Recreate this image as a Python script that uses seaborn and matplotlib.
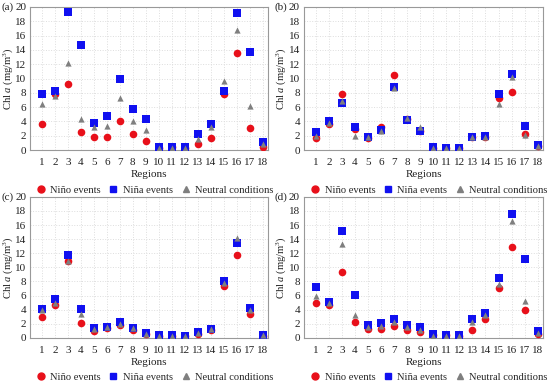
import numpy as np
import pandas as pd
import matplotlib
matplotlib.use("Agg")
import matplotlib.pyplot as plt
from matplotlib.lines import Line2D
import seaborn as sns

# regions 1..18
regions = list(range(1, 19))
conditions = ["Niño events", "Niña events", "Neutral conditions"]

# panel (a)
a_nino = [3.6, 7.9, 9.2, 2.5, 1.9, 1.9, 4.1, 2.3, 1.3, 0.3, 0.5, 0.3, 0.9, 1.7, 7.8, 13.5, 3.1, 0.5]
a_nina = [7.8, 8.2, 19.3, 14.7, 3.8, 4.7, 10.0, 5.7, 4.3, 0.4, 0.4, 0.4, 2.3, 3.7, 8.3, 19.2, 13.7, 1.1]
a_neut = [6.4, 7.6, 12.1, 4.4, 3.2, 3.4, 7.3, 4.0, 2.8, 0.3, 0.3, 0.3, 1.5, 3.3, 9.6, 16.8, 6.1, 0.8]

# panel (b)
b_nino = [1.7, 3.6, 7.9, 3.0, 1.7, 3.3, 10.5, 4.4, 2.7, 0.3, 0.3, 0.3, 1.8, 1.9, 7.3, 8.1, 2.3, 0.6]
b_nina = [2.5, 4.0, 6.6, 3.3, 1.9, 2.8, 8.8, 4.2, 2.7, 0.4, 0.3, 0.3, 1.9, 2.0, 7.8, 10.6, 3.4, 0.7]
b_neut = [2.0, 3.8, 6.9, 2.0, 1.9, 2.7, 8.7, 4.5, 3.2, 0.3, 0.3, 0.3, 1.8, 1.9, 6.5, 10.2, 2.1, 0.6]

# panel (c)
c_nino = [3.0, 4.7, 10.9, 2.1, 1.0, 1.4, 1.8, 1.1, 0.5, 0.3, 0.3, 0.3, 0.6, 1.1, 7.3, 11.7, 3.4, 0.3]
c_nina = [4.1, 5.5, 11.8, 4.1, 1.4, 1.5, 2.2, 1.4, 0.7, 0.4, 0.4, 0.3, 0.8, 1.3, 8.1, 13.5, 4.3, 0.4]
c_neut = [4.0, 5.0, 10.9, 3.4, 1.3, 1.5, 2.0, 1.4, 0.6, 0.3, 0.3, 0.3, 0.7, 1.3, 7.8, 14.2, 3.9, 0.4]

# panel (d)
d_nino = [4.9, 4.6, 9.3, 2.3, 1.3, 1.3, 1.7, 1.1, 0.8, 0.4, 0.4, 0.3, 1.1, 2.6, 7.1, 12.9, 3.9, 0.6]
d_nina = [7.2, 5.1, 15.1, 6.1, 1.8, 2.1, 2.7, 1.8, 1.5, 0.5, 0.4, 0.4, 2.6, 3.5, 8.5, 17.5, 11.2, 0.9]
d_neut = [5.9, 4.9, 13.3, 3.3, 1.6, 1.7, 2.2, 1.5, 1.1, 0.3, 0.3, 0.3, 2.2, 3.2, 7.6, 16.6, 5.2, 0.7]

panels = {
    "(a)": (a_nino, a_nina, a_neut),
    "(b)": (b_nino, b_nina, b_neut),
    "(c)": (c_nino, c_nina, c_neut),
    "(d)": (d_nino, d_nina, d_neut),
}

sns.set_theme(style="white")
plt.rcParams["font.family"] = ["Liberation Serif", "DejaVu Serif"]
plt.rcParams["mathtext.fontset"] = "custom"
plt.rcParams["mathtext.rm"] = "Liberation Serif"
plt.rcParams["mathtext.it"] = "Liberation Serif:italic"

colors = {"Niño events": "#e8101a", "Niña events": "#1010f0", "Neutral conditions": "#7f7f7f"}
markers = {"Niño events": "o", "Niña events": "s", "Neutral conditions": "^"}
sizes = {"Niño events": 30, "Niña events": 34, "Neutral conditions": 20}

fig = plt.figure(figsize=(5.5, 3.83), dpi=100)
# axes boxes in figure fractions
boxes = {
    "(a)": [0.055, 0.608, 0.432, 0.374],
    "(b)": [0.553, 0.608, 0.434, 0.374],
    "(c)": [0.055, 0.118, 0.432, 0.368],
    "(d)": [0.553, 0.118, 0.434, 0.368],
}

fs = 8
for tag, vals in panels.items():
    ax = fig.add_axes(boxes[tag])
    rows = []
    for cond, v in zip(conditions, vals):
        for r, y in zip(regions, v):
            rows.append({"Region": r, "Chl": y, "Condition": cond})
    df = pd.DataFrame(rows)
    for cond in conditions:
        sub = df[df["Condition"] == cond]
        sns.scatterplot(data=sub, x="Region", y="Chl", ax=ax, color=colors[cond],
                        marker=markers[cond], s=sizes[cond], linewidth=0, zorder=3)
    ax.set_xlim(0.1, 18.4)
    ax.set_ylim(0, 20)
    ax.set_xticks(regions)
    ax.set_yticks(np.arange(0, 21, 2))
    ax.tick_params(axis="both", length=0, labelsize=fs, colors="#222222", pad=3)
    ax.tick_params(axis="x", pad=6)
    ax.grid(True, color="#dddddd", linestyle=":", linewidth=0.7)
    for sp in ax.spines.values():
        sp.set_color("#999999")
        sp.set_linewidth(0.8)
    ax.set_xlabel("Regions", fontsize=fs, color="#222222", labelpad=2)
    ax.set_ylabel("Chl $\\mathit{a}$ (mg/m$^3$)", fontsize=7.6, color="#222222")
    ax.yaxis.set_label_coords(-0.066, 0.5)
    handles = [Line2D([], [], linestyle="none", marker=markers[c], color=colors[c],
                      markersize=5 if c != "Neutral conditions" else 4.2) for c in conditions]
    ax.legend(handles, conditions, loc="upper center", bbox_to_anchor=(0.52, -0.215),
              ncol=3, frameon=False, fontsize=7.6, handletextpad=0.3, columnspacing=0.6,
              borderaxespad=0, handlelength=1.2)
    bb = boxes[tag]
    fig.text(bb[0] - 0.03, bb[1] + bb[3], tag, fontsize=fs, ha="right", va="center",
             color="#222222")

fig.savefig("out.png", dpi=100)
